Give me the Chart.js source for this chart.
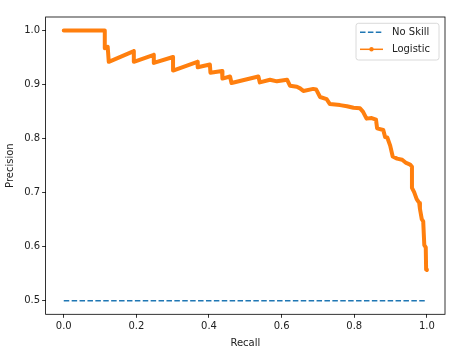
<!DOCTYPE html>
<html>
<head>
<meta charset="utf-8">
<script src="https://cdn.jsdelivr.net/npm/chart.js@4.4.0/dist/chart.umd.min.js"></script>
<style>
    html, body { margin: 0; padding: 0; background: #fff; }
</style>
</head>
<body>
<canvas id="pr-curve" width="462" height="352"></canvas>
<script>
(function () {
    "use strict";

    // Precision-recall curve, values
    var recall = [0.000, 0.030, 0.060, 0.090, 0.113, 0.113, 0.121, 0.124, 0.193, 0.193,
        0.248, 0.248, 0.301, 0.301, 0.368, 0.369, 0.4025, 0.404, 0.436, 0.437,
        0.458, 0.462, 0.536, 0.540, 0.568, 0.587, 0.615, 0.623, 0.642, 0.651,
        0.660, 0.687, 0.695, 0.706, 0.724, 0.733, 0.761, 0.780, 0.798, 0.816,
        0.824, 0.834, 0.848, 0.860, 0.863, 0.880, 0.885, 0.891, 0.899, 0.906,
        0.918, 0.932, 0.943, 0.954, 0.959, 0.959, 0.965, 0.972, 0.979, 0.981,
        0.986, 0.990, 0.993, 0.997, 0.998, 1.000];
    var precision = [1.000, 1.000, 1.000, 1.000, 1.000, 0.967, 0.970, 0.942, 0.962, 0.942,
        0.955, 0.940, 0.951, 0.926, 0.942, 0.932, 0.937, 0.922, 0.925, 0.911,
        0.915, 0.903, 0.915, 0.904, 0.909, 0.906, 0.909, 0.898, 0.896, 0.893,
        0.888, 0.892, 0.891, 0.877, 0.873, 0.864, 0.862, 0.860, 0.857, 0.856,
        0.850, 0.837, 0.838, 0.835, 0.819, 0.816, 0.803, 0.802, 0.787, 0.767,
        0.763, 0.761, 0.755, 0.752, 0.748, 0.709, 0.701, 0.688, 0.681, 0.670,
        0.651, 0.647, 0.603, 0.599, 0.558, 0.557];
    var noSkillRecall = [0, 1];
    var noSkillPrecision = [0.5, 0.5];
    var xTicks = [0.0, 0.2, 0.4, 0.6, 0.8, 1.0];
    var yTicks = [0.5, 0.6, 0.7, 0.8, 0.9, 1.0];
    var seriesNames = ["No Skill", "Logistic"];

    var BLUE = "#1f77b4";
    var ORANGE = "#ff7f0e";
    var FONT = { family: "'DejaVu Sans', sans-serif", size: 10 };

    function toPoints(xs, ys) {
        return xs.map(function (x, i) { return { x: x, y: ys[i] }; });
    }

    // matplotlib style frame (all four spines)
    var framePlugin = {
        id: "frame",
        afterDatasetsDraw: function (chart) {
            var a = chart.chartArea, ctx = chart.ctx;
            ctx.save();
            ctx.strokeStyle = "#000";
            ctx.lineWidth = 0.8;
            ctx.strokeRect(a.left, a.top, a.right - a.left, a.bottom - a.top);
            ctx.restore();
        }
    };

    // legend box in the upper right corner
    var legendPlugin = {
        id: "mplLegend",
        afterDraw: function (chart) {
            var a = chart.chartArea, ctx = chart.ctx;
            var w = 83, h = 36.7;
            var left = a.right - 6 - w, top = a.top + 6.3;
            ctx.save();
            ctx.beginPath();
            ctx.roundRect(left, top, w, h, 2.5);
            ctx.fillStyle = "rgba(255,255,255,0.8)";
            ctx.fill();
            ctx.strokeStyle = "#d0d0d0";
            ctx.lineWidth = 0.8;
            ctx.stroke();

            var rows = [top + 9, top + 26];
            // No Skill
            ctx.beginPath();
            ctx.setLineDash([5.5, 2.4]);
            ctx.strokeStyle = BLUE;
            ctx.lineWidth = 1.5;
            ctx.moveTo(left + 4, rows[0]);
            ctx.lineTo(left + 27, rows[0]);
            ctx.stroke();
            // Logistic
            ctx.setLineDash([]);
            ctx.beginPath();
            ctx.strokeStyle = ORANGE;
            ctx.moveTo(left + 4, rows[1]);
            ctx.lineTo(left + 27, rows[1]);
            ctx.stroke();
            ctx.beginPath();
            ctx.fillStyle = ORANGE;
            ctx.arc(left + 15.5, rows[1], 2.2, 0, Math.PI * 2);
            ctx.fill();

            ctx.fillStyle = "#222";
            ctx.font = FONT.size + "px " + FONT.family;
            ctx.textBaseline = "middle";
            ctx.textAlign = "left";
            ctx.fillText(seriesNames[0], left + 36, rows[0]);
            ctx.fillText(seriesNames[1], left + 36, rows[1]);
            ctx.restore();
        }
    };

    var tickGrid = {
        display: true,
        drawOnChartArea: false,
        drawTicks: true,
        tickLength: 3.5,
        tickColor: "#000",
        tickWidth: 0.8
    };

    var ctx = document.getElementById("pr-curve").getContext("2d");
    var prChart = new Chart(ctx, {
        type: "scatter",
        data: {
            datasets: [{
                    label: seriesNames[0],
                    data: toPoints(noSkillRecall, noSkillPrecision),
                    showLine: true,
                    borderColor: BLUE,
                    borderWidth: 1.5,
                    borderDash: [5.5, 2.4],
                    pointRadius: 0
                },
                {
                    label: seriesNames[1],
                    data: toPoints(recall, precision),
                    showLine: true,
                    borderColor: ORANGE,
                    backgroundColor: ORANGE,
                    borderWidth: 4,
                    borderCapStyle: "round",
                    borderJoinStyle: "round",
                    pointRadius: 0
                }
            ]
        },
        options: {
            responsive: false,
            animation: false,
            layout: { padding: { top: 17, right: 17, left: 0, bottom: 0 } },
            plugins: {
                legend: { display: false },
                tooltip: { enabled: false }
            },
            scales: {
                x: {
                    type: "linear",
                    min: -0.05,
                    max: 1.05,
                    afterBuildTicks: function (s) {
                        s.ticks = xTicks.map(function (v) { return { value: v }; });
                    },
                    afterFit: function (s) { s.height = 37.7; },
                    grid: tickGrid,
                    border: { display: false },
                    ticks: {
                        color: "#222",
                        font: FONT,
                        padding: 3,
                        autoSkip: false,
                        maxRotation: 0,
                        callback: function (v) { return v.toFixed(1); }
                    },
                    title: {
                        display: true,
                        text: "Recall",
                        color: "#222",
                        font: FONT,
                        padding: { top: 0, bottom: 3 }
                    }
                },
                y: {
                    type: "linear",
                    min: 0.475,
                    max: 1.025,
                    afterBuildTicks: function (s) {
                        s.ticks = yTicks.map(function (v) { return { value: v }; });
                    },
                    afterFit: function (s) { s.width = 45.6; },
                    grid: tickGrid,
                    border: { display: false },
                    ticks: {
                        color: "#222",
                        font: FONT,
                        padding: 2,
                        autoSkip: false,
                        callback: function (v) { return v.toFixed(1); }
                    },
                    title: {
                        display: true,
                        text: "Precision",
                        color: "#222",
                        font: FONT,
                        padding: { top: 4, bottom: 0 }
                    }
                }
            }
        },
        plugins: [framePlugin, legendPlugin]
    });
})();
</script>
</body>
</html>
